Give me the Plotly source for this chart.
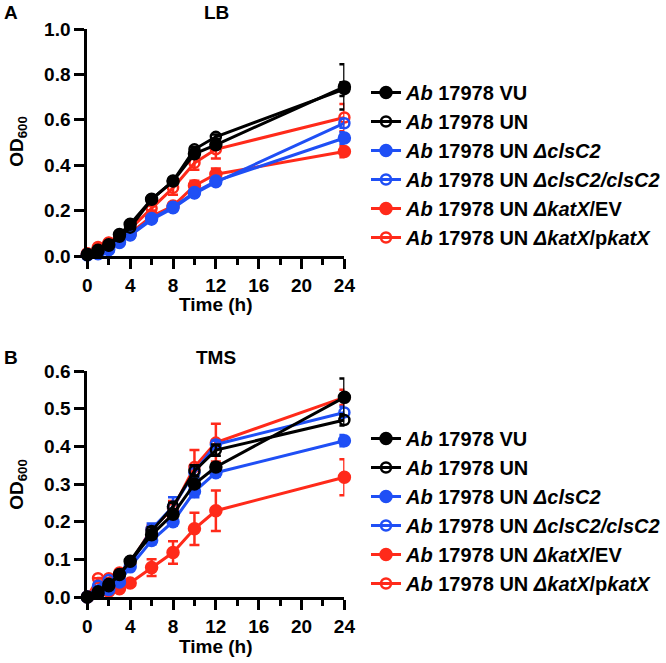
import plotly.graph_objects as go

# ---------------- data ----------------
time_h = [0, 1, 2, 3, 4, 6, 8, 10, 12, 24]

series_names = [
    "<i>Ab</i> 17978 VU",
    "<i>Ab</i> 17978 UN",
    "<i>Ab</i> 17978 UN <i>ΔclsC2</i>",
    "<i>Ab</i> 17978 UN <i>ΔclsC2/clsC2</i>",
    "<i>Ab</i> 17978 UN <i>ΔkatX</i>/EV",
    "<i>Ab</i> 17978 UN <i>ΔkatX</i>/p<i>katX</i>",
]

# LB medium
lb_vu = [0.007, 0.025, 0.05, 0.095, 0.14, 0.25, 0.33, 0.45, 0.49, 0.745]
lb_vu_err = [0, 0, 0, 0, 0.005, 0.01, 0.01, 0.015, 0.015, 0.10]
lb_un = [0.005, 0.02, 0.045, 0.085, 0.125, 0.25, 0.33, 0.47, 0.525, 0.735]
lb_un_err = [0, 0, 0, 0, 0.005, 0.01, 0.01, 0.01, 0.01, 0.03]
lb_cls = [0.005, 0.01, 0.03, 0.06, 0.095, 0.165, 0.215, 0.28, 0.33, 0.52]
lb_cls_err = [0, 0, 0, 0, 0.005, 0.005, 0.005, 0.01, 0.01, 0.025]
lb_clscomp = [0.005, 0.01, 0.025, 0.06, 0.09, 0.16, 0.21, 0.275, 0.325, 0.585]
lb_clscomp_err = [0, 0, 0, 0, 0.005, 0.005, 0.005, 0.01, 0.01, 0.02]
lb_katx_ev = [0.01, 0.03, 0.055, 0.08, 0.10, 0.175, 0.22, 0.31, 0.36, 0.46]
lb_katx_ev_err = [0, 0, 0, 0, 0.005, 0.01, 0.01, 0.022, 0.025, 0.025]
lb_katx_p = [0.01, 0.04, 0.06, 0.085, 0.12, 0.21, 0.30, 0.41, 0.47, 0.61]
lb_katx_p_err = [0, 0, 0, 0, 0.005, 0.01, 0.03, 0.03, 0.04, 0.06]

# TMS medium
tms_vu = [0.0, 0.01, 0.03, 0.06, 0.095, 0.165, 0.22, 0.30, 0.345, 0.53]
tms_vu_err = [0, 0, 0, 0, 0.005, 0.01, 0.01, 0.01, 0.01, 0.05]
tms_un = [0.0, 0.015, 0.035, 0.06, 0.095, 0.175, 0.24, 0.335, 0.39, 0.47]
tms_un_err = [0, 0, 0, 0, 0.005, 0.01, 0.01, 0.015, 0.015, 0.015]
tms_cls = [0.0, 0.01, 0.02, 0.04, 0.08, 0.15, 0.20, 0.28, 0.33, 0.415]
tms_cls_err = [0, 0, 0, 0, 0.005, 0.01, 0.01, 0.015, 0.01, 0.015]
tms_clscomp = [0.0, 0.03, 0.045, 0.05, 0.085, 0.18, 0.24, 0.33, 0.405, 0.49]
tms_clscomp_err = [0, 0, 0, 0, 0.005, 0.015, 0.025, 0.015, 0.01, 0.015]
tms_katx_ev = [0.0, 0.01, 0.015, 0.022, 0.037, 0.078, 0.118, 0.181, 0.229, 0.318]
tms_katx_ev_err = [0, 0, 0, 0, 0.005, 0.022, 0.03, 0.043, 0.054, 0.048]
tms_katx_p = [0.0, 0.05, 0.05, 0.065, 0.09, 0.18, 0.235, 0.345, 0.41, 0.53]
tms_katx_p_err = [0, 0, 0, 0, 0.005, 0.01, 0.02, 0.045, 0.05, 0.02]

lb_values = [lb_vu, lb_un, lb_cls, lb_clscomp, lb_katx_ev, lb_katx_p]
lb_errors = [lb_vu_err, lb_un_err, lb_cls_err, lb_clscomp_err, lb_katx_ev_err, lb_katx_p_err]
tms_values = [tms_vu, tms_un, tms_cls, tms_clscomp, tms_katx_ev, tms_katx_p]
tms_errors = [tms_vu_err, tms_un_err, tms_cls_err, tms_clscomp_err, tms_katx_ev_err, tms_katx_p_err]

x_ticks = [0, 4, 8, 12, 16, 20, 24]

# ---------------- styles ----------------
BLACK = "#000000"
BLUE = "#1F4FF5"
RED = "#FF2A1A"
colors = [BLACK, BLACK, BLUE, BLUE, RED, RED]
filled = [True, False, True, False, True, False]
draw_order = [5, 4, 3, 2, 1, 0]   # black drawn on top
FONT = "Liberation Sans, Arial, Helvetica, sans-serif"

W, H = 666, 663

def px_x(p):
    return p / W

def px_y(p):
    return 1 - p / H

fig = go.Figure()

panels = [
    ("x", "y", lb_values, lb_errors, "legend"),
    ("x2", "y2", tms_values, tms_errors, "legend2"),
]

for xa, ya, vals, errs, leg in panels:
    for i in draw_order:
        fig.add_trace(go.Scatter(
            x=time_h, y=vals[i], xaxis=xa, yaxis=ya,
            mode="lines+markers",
            name=series_names[i],
            legend=leg,
            legendgroup=f"{leg}_{i}",
            legendrank=i + 1,
            line=dict(color=colors[i], width=3),
            marker=dict(
                symbol="circle" if filled[i] else "circle-open",
                size=11 if filled[i] else 10,
                color=colors[i],
                line=dict(color=colors[i], width=2.5),
            ),
            error_y=dict(type="data", array=errs[i], visible=True,
                         color=colors[i], thickness=2.5, width=5),
            cliponaxis=False,
        ))

TICK_SIZE = 19
axis_common = dict(
    showline=True, linecolor="black", linewidth=3,
    ticks="outside", ticklen=10, tickwidth=3, tickcolor="black",
    showgrid=False, zeroline=False,
    tickfont=dict(family=FONT, size=TICK_SIZE, color="black", weight="bold"),
    automargin=False,
)

xaxis_common = dict(axis_common, range=[0, 24], tickvals=x_ticks,
                    minor=dict(dtick=2, ticks="outside", ticklen=6,
                               tickwidth=3, tickcolor="black", showgrid=False))

legend_font = dict(family=FONT, size=20, color="black", weight="bold")

fig.update_layout(
    width=W, height=H,
    margin=dict(l=0, r=0, t=0, b=0),
    plot_bgcolor="white", paper_bgcolor="white",
    xaxis=dict(xaxis_common, domain=[px_x(88), px_x(347)], anchor="y"),
    yaxis=dict(axis_common, domain=[px_y(256), px_y(29)], range=[0, 1.0],
               dtick=0.2, tickformat=".1f", anchor="x"),
    xaxis2=dict(xaxis_common, domain=[px_x(88), px_x(347)], anchor="y2"),
    yaxis2=dict(axis_common, domain=[px_y(597), px_y(371)], range=[0, 0.6],
                dtick=0.1, tickformat=".1f", anchor="x2"),
    legend=dict(x=px_x(369), y=px_y(73), xanchor="left", yanchor="top",
                traceorder="grouped", tracegroupgap=0,
                font=legend_font, bgcolor="rgba(0,0,0,0)", itemwidth=30),
    legend2=dict(x=px_x(369), y=px_y(419), xanchor="left", yanchor="top",
                 traceorder="grouped", tracegroupgap=0,
                 font=legend_font, bgcolor="rgba(0,0,0,0)", itemwidth=30),
    showlegend=True,
)

ann_font = dict(family=FONT, size=19, color="black", weight="bold")
annotations = [
    dict(text="A", x=px_x(2), y=px_y(12), xanchor="left"),
    dict(text="LB", x=px_x(218), y=px_y(12)),
    dict(text="B", x=px_x(2), y=px_y(357), xanchor="left"),
    dict(text="TMS", x=px_x(218), y=px_y(357)),
    dict(text="Time (h)", x=px_x(218), y=px_y(305)),
    dict(text="Time (h)", x=px_x(218), y=px_y(646)),
    dict(text="OD<sub>600</sub>", x=px_x(18), y=px_y(141), textangle=-90),
    dict(text="OD<sub>600</sub>", x=px_x(18), y=px_y(484), textangle=-90),
]
for a in annotations:
    a.setdefault("xanchor", "center")
    fig.add_annotation(xref="paper", yref="paper", yanchor="middle",
                       showarrow=False, font=ann_font, **a)

# remove the browser's default 8px body margin so the figure fills the window
fig.write_html("out.html", config={"displayModeBar": False},
               post_script="document.body.style.margin='0px';")
